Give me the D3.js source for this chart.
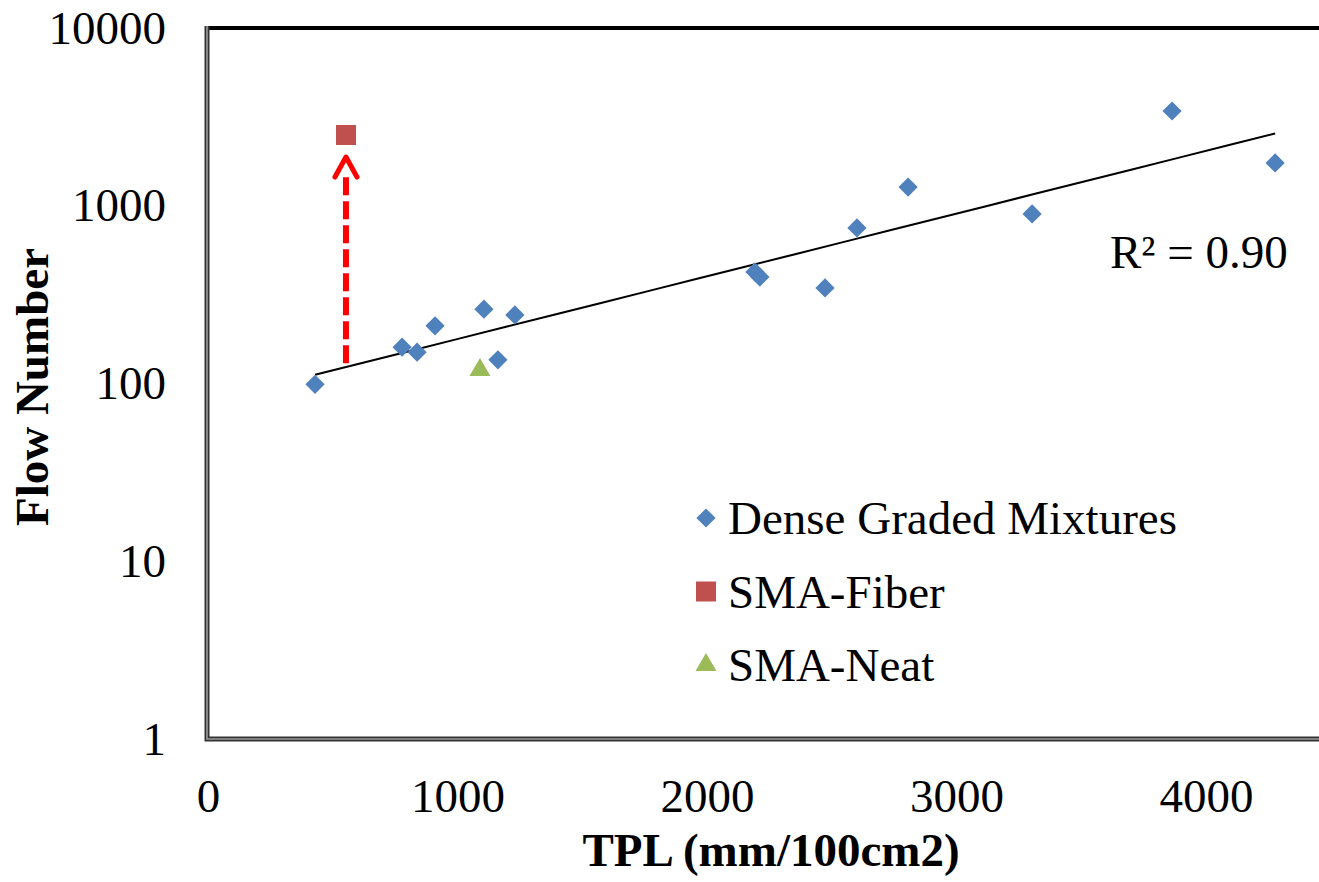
<!DOCTYPE html>
<html lang="en">
<head>
<meta charset="UTF-8">
<title>Flow Number vs TPL</title>
<script src="https://cdn.jsdelivr.net/npm/d3@7"></script>
<style>
    body { margin: 0; background: #fff; }
    svg text { font-family: "Liberation Serif", "Times New Roman", serif; fill: #000; }
</style>
</head>
<body>
<svg id="chart" width="1319" height="882"></svg>
<script>
// data
var denseTPL  = [429, 778, 838, 910, 1106, 1162, 1230, 2192, 2212, 2473, 2601, 2806, 3303, 3864, 4277];
var denseFN   = [99, 160, 150, 211, 262, 136, 243, 424, 397, 345, 750, 1274, 899, 3412, 1740];
var fiberTPL  = [553];
var fiberFN   = [2500];
var neatTPL   = [1090];
var neatFN    = [119];
var seriesNames = ["Dense Graded Mixtures", "SMA-Fiber", "SMA-Neat"];
var xTicks = [0, 1000, 2000, 3000, 4000];
var yTicks = [1, 10, 100, 1000, 10000];
var arrowFN = [130, 1880];   // dashed arrow, at the SMA-Fiber TPL

var svg = d3.select("#chart");
var plotLeft = 208, plotTop = 28, plotBottom = 739;

var x = d3.scaleLinear().domain([0, 4500]).range([plotLeft, plotLeft + 4.5 * 249.5]);
var y = d3.scaleLog().domain([1, 10000]).range([plotBottom, plotTop]);

// frame
svg.append("line").attr("x1", 207).attr("x2", 1319).attr("y1", plotTop).attr("y2", plotTop)
    .attr("stroke", "#000").attr("stroke-width", 4);
[["#333", 5], ["#9a9a9a", 1.6]].forEach(function(s) {
    svg.append("path")
        .attr("d", "M207," + (plotTop - 2) + "V" + plotBottom + "H1319")
        .attr("fill", "none").attr("stroke", s[0]).attr("stroke-width", s[1]);
});

// axes
var yAxis = d3.axisLeft(y).tickValues(yTicks).tickFormat(d3.format("d"))
    .tickSize(0).tickPadding(42);
var xAxis = d3.axisBottom(x).tickValues(xTicks).tickFormat(d3.format("d"))
    .tickSize(0).tickPadding(40);
svg.append("g").attr("transform", "translate(" + plotLeft + ",0)").call(yAxis)
    .call(function(g) { g.select(".domain").remove(); });
svg.append("g").attr("transform", "translate(0," + plotBottom + ")").call(xAxis)
    .call(function(g) { g.select(".domain").remove(); });
svg.selectAll(".tick text").attr("font-size", 47)
    .attr("font-family", "Liberation Serif, Times New Roman, serif").attr("fill", "#000");

// axis titles
svg.append("text").attr("x", 771).attr("y", 866).attr("text-anchor", "middle")
    .attr("font-size", 47).attr("font-weight", "bold").text("TPL (mm/100cm2)");
svg.append("text").attr("transform", "translate(48,387) rotate(-90)").attr("text-anchor", "middle")
    .attr("font-size", 47).attr("font-weight", "bold").text("Flow Number");

// exponential trend line on the dense graded points
var lx = denseTPL, ly = denseFN.map(Math.log);
var mx = d3.mean(lx), my = d3.mean(ly);
var sxy = d3.sum(lx, function(v, i) { return (v - mx) * (ly[i] - my); });
var sxx = d3.sum(lx, function(v) { return (v - mx) * (v - mx); });
var syy = d3.sum(ly, function(v) { return (v - my) * (v - my); });
var b = sxy / sxx, a = my - b * mx;
var r2 = sxy * sxy / (sxx * syy);
var ext = d3.extent(denseTPL);
var trend = d3.range(0, 21).map(function(i) {
    var t = ext[0] + (ext[1] - ext[0]) * i / 20;
    return [t, Math.exp(a + b * t)];
});
svg.append("path")
    .attr("d", d3.line().x(function(d) { return x(d[0]); }).y(function(d) { return y(d[1]); })(trend))
    .attr("fill", "none").attr("stroke", "#000").attr("stroke-width", 2);

svg.append("text").attr("x", 1110).attr("y", 268).attr("font-size", 47)
    .text("R\u00b2 = " + r2.toFixed(2));

// red dashed arrow
var ax = x(fiberTPL[0]), ay0 = y(arrowFN[0]), ay1 = y(arrowFN[1]);
svg.append("line").attr("x1", ax).attr("x2", ax).attr("y1", ay0).attr("y2", ay1 + 19)
    .attr("stroke", "#ff0000").attr("stroke-width", 6).attr("stroke-dasharray", "18,6");
svg.append("polyline")
    .attr("points", [[ax - 11, ay1 + 20], [ax, ay1], [ax + 11, ay1 + 20]].join(" "))
    .attr("fill", "none").attr("stroke", "#ff0000").attr("stroke-width", 5)
    .attr("stroke-linecap", "round").attr("stroke-linejoin", "round");

// markers
var colors = ["#4f81bd", "#c0504d", "#9bbb59"];
var diamond = d3.symbol().type(d3.symbolSquare).size(185)();
var square = d3.symbol().type(d3.symbolSquare).size(400)();
var tri = d3.symbol().type(d3.symbolTriangle).size(190)();
var shapes = [
    { path: diamond, rot: 45 },
    { path: square, rot: 0 },
    { path: tri, rot: 0 }
];

function drawPoints(xs, ys, k) {
    svg.append("g").selectAll("path").data(xs).join("path")
        .attr("d", shapes[k].path)
        .attr("fill", colors[k])
        .attr("transform", function(d, i) {
            return "translate(" + x(d) + "," + y(ys[i]) + ") rotate(" + shapes[k].rot + ")";
        });
}
drawPoints(denseTPL, denseFN, 0);
drawPoints(fiberTPL, fiberFN, 1);
drawPoints(neatTPL, neatFN, 2);

// legend
var leg = svg.append("g").attr("transform", "translate(706,518)");
seriesNames.forEach(function(name, k) {
    var row = leg.append("g").attr("transform", "translate(0," + (k * 73.5) + ")");
    row.append("path").attr("d", shapes[k].path).attr("fill", colors[k])
        .attr("transform", "rotate(" + shapes[k].rot + ")");
    row.append("text").attr("x", 22).attr("y", 16).attr("font-size", 47).text(name);
});
</script>
</body>
</html>
